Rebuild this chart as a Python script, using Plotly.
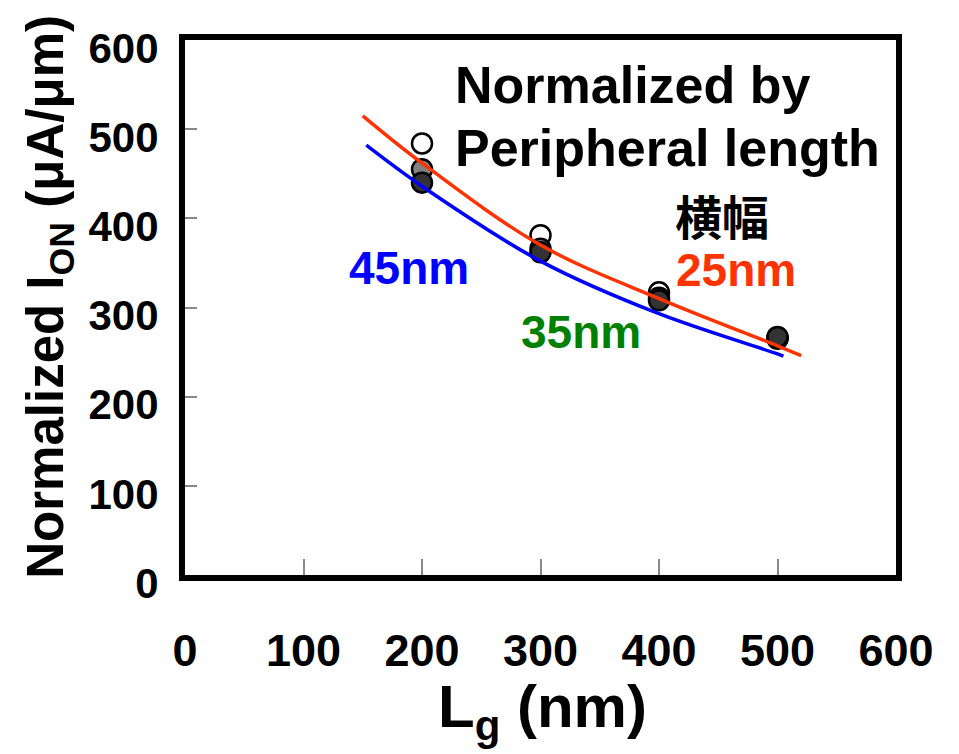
import plotly.graph_objects as go

# Data
lg = [200, 300, 400, 500]
ion_25nm = [484, 381, 317, 265]
ion_35nm = [455, 366, 311, 266]
ion_45nm = [440, 362, 308, 267]

fit25_x = [150, 200, 300, 400, 500, 520]
fit25_y = [515, 462, 370, 310, 257, 246]
fit45_x = [153, 200, 300, 400, 500, 505]
fit45_y = [482, 436, 352, 293, 248, 245.5]

x_ticks = [0, 100, 200, 300, 400, 500, 600]
y_ticks = [0, 100, 200, 300, 400, 500, 600]

FONT = "Liberation Sans, Arial, sans-serif"

fig = go.Figure()

fig.add_trace(go.Scatter(x=lg, y=ion_25nm, mode="markers", name="25nm",
                         marker=dict(size=20, color="white", line=dict(color="black", width=2.5))))
fig.add_trace(go.Scatter(x=lg, y=ion_35nm, mode="markers", name="35nm",
                         marker=dict(size=20, color="#808080", line=dict(color="black", width=2.5))))
fig.add_trace(go.Scatter(x=lg, y=ion_45nm, mode="markers", name="45nm",
                         marker=dict(size=20, color="#333333", line=dict(color="black", width=2.5))))
fig.add_trace(go.Scatter(x=fit45_x, y=fit45_y, mode="lines", line=dict(color="#0000FF", width=3.5, shape="spline")))
fig.add_trace(go.Scatter(x=fit25_x, y=fit25_y, mode="lines", line=dict(color="#FF3300", width=3.5, shape="spline")))

axis_common = dict(showline=True, mirror=True, linecolor="black", linewidth=6,
                   showgrid=False, zeroline=False, ticks="inside", tickcolor="#888888",
                   tickwidth=1.5)

fig.update_xaxes(range=[0, 600], tickvals=x_ticks, ticklen=16,
                 tickfont=dict(family=FONT, size=45, color="black", weight="bold"),
                 ticklabelstandoff=31, **axis_common)
fig.update_yaxes(range=[0, 600], tickvals=y_ticks, ticklen=12,
                 tickfont=dict(family=FONT, size=42, color="black", weight="bold"),
                 ticklabelstandoff=12, ticklabelshift=8, **axis_common)

def ann(text, x, y, color, size, family=FONT, xref="x", yref="y", xanchor="left", angle=0):
    fig.add_annotation(text=text, x=x, y=y, xref=xref, yref=yref, xanchor=xanchor, yanchor="middle",
                       showarrow=False, textangle=angle,
                       font=dict(family=family, size=size, color=color, weight="bold"))

ann("Normalized by", 226, 549, "black", 52)
ann("Peripheral length", 226, 479, "black", 52)
ann("横幅", 412, 404, "black", 47, family="Noto Sans CJK JP")
ann("25nm", 413, 342, "#FF3300", 46)
ann("45nm", 137, 344, "#0000FF", 46)
ann("35nm", 282, 273, "#008000", 46)

# axis titles
ann("L<sub>g</sub> (nm)", 0.503, -0.255, "black", 60, xref="paper", yref="paper", xanchor="center")
ann("Normalized I<sub>ON</sub> (μA/μm)", -0.19, 0.52, "black", 51, xref="paper", yref="paper",
    xanchor="center", angle=-90)

fig.update_layout(width=959, height=754, showlegend=False,
                  margin=dict(l=185, r=63, t=40, b=179),
                  plot_bgcolor="white", paper_bgcolor="white")

fig.write_html("out.html")
